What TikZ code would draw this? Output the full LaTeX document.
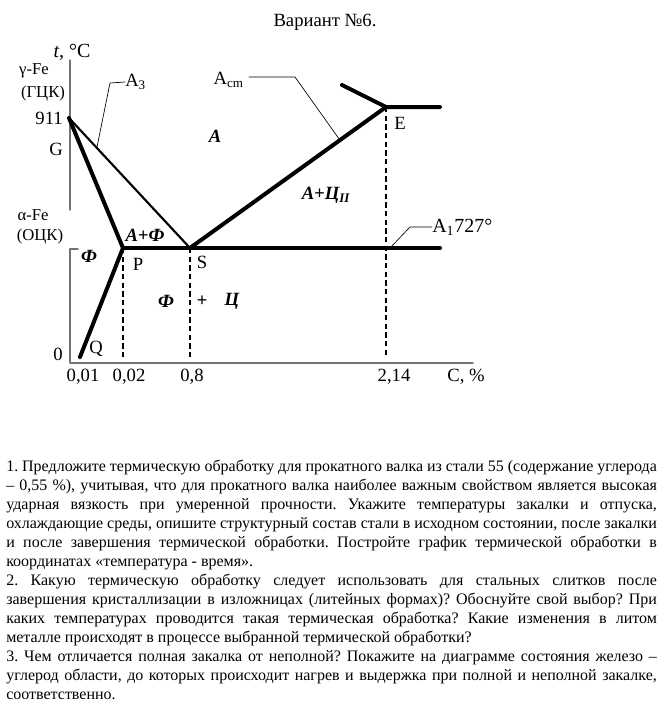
\documentclass[tikz,border=0pt]{standalone}
\usepackage{fontspec}
\setmainfont{Liberation Serif}
\usetikzlibrary{calc}
\frenchspacing
\newlength{\taskw}\setlength{\taskw}{488pt}
\newcommand{\tline}[1]{\makebox[\taskw][s]{#1}\\}
\begin{document}
\begin{tikzpicture}[x=.75pt, y=-.75pt, line join=round, line cap=round,
	lbl/.style={font=\fontsize{14}{16}\selectfont, inner sep=0pt},
	sml/.style={font=\fontsize{12.5}{14}\selectfont, inner sep=0pt},
	phs/.style={font=\fontsize{14}{16}\selectfont\bfseries\itshape, inner sep=0pt},
	axis/.style={draw=black!55, line width=1.1pt},
	curve/.style={line width=3pt},
	thincurve/.style={line width=1.6pt},
	leader/.style={line width=.5pt},
	drop/.style={line width=1.1pt, line cap=butt, dash pattern=on 4pt off 2.5pt}]
	\useasboundingbox (0,0) rectangle (661,717);
	\node (title) at (325,22) {\fontsize{14}{16}\selectfont Вариант №6.};
	% points of the diagram
	\coordinate (G) at (69,118);
	\coordinate (P) at (123,248);
	\coordinate (S) at (190,248);
	\coordinate (E) at (386,107);
	\coordinate (Q) at (80,357);
	\coordinate (PSK) at (440,248);
	\coordinate (ECF) at (440,107);
	\coordinate (BC) at (342,85);
	% axes
	\coordinate (O) at (70,363);
	\coordinate (Xend) at (473,363);
	\coordinate (Ytop) at (70,60);
	\coordinate (Ybrk) at (70,210);
	\coordinate (Ylow) at (70,249);
	\coordinate (Ytick) at (78,249);
	\draw[axis] (Ytop) -- (Ybrk);
	\draw[axis] (Ytick) -- (Ylow) -- (O) -- (Xend);
	% drop lines
	\draw[drop] (P) -- (P |- Q);
	\draw[drop] (S) -- (S |- Q);
	\draw[drop] (E) -- (E |- Q);
	% lines
	\draw[thincurve] (G) -- (S);
	\draw[curve] (Q) -- (P) -- (G);
	\draw[curve] (P) -- (PSK);
	\draw[curve] (S) -- (E) -- (ECF);
	\draw[curve] (BC) -- (E);
	% axis labels
	\node[lbl, font=\fontsize{15}{17}\selectfont] (tC) at (72,52) {\textit{t,} °C};
	\node[sml] (gFe) at (34,71) {γ-Fe};
	\node[sml] (gcc) at (43,93) {(ГЦК)};
	\node[lbl, anchor=east] (t911) at (63,118) {911};
	\node[lbl, anchor=east] (Glbl) at (63,149) {G};
	\node[sml] (aFe) at (33,215) {α-Fe};
	\node[sml] (bcc) at (40,236) {(ОЦК)};
	\node[lbl] (t0) at (58,354) {0};
	\node[lbl] (c001) at (83,377) {0,01};
	\node[lbl] (c002) at (129,377) {0,02};
	\node[lbl] (c08) at (192,377) {0,8};
	\node[lbl] (c214) at (394,377) {2,14};
	\node[lbl] (cpct) at (466,377) {C, \%};
	% point labels
	\node[lbl] (Plbl) at (138,264) {P};
	\node[lbl] (Slbl) at (202,262) {S};
	\node[lbl] (Elbl) at (400,123) {E};
	\node[lbl] (Qlbl) at (96,349) {Q};
	% phase fields
	\node[phs] (aus) at (215,136) {А};
	\node[phs] (ausce) at (326,195) {А+Ц\textsubscript{II}};
	\node[phs] (ausfe) at (145,235) {А+Ф};
	\node[phs] (fer) at (89,256) {Ф};
	\node[phs] (perf) at (166,301) {Ф};
	\node[phs] (perp) at (202,301) {+};
	\node[phs] (perc) at (232,301) {Ц};
	% critical lines
	\node[lbl, anchor=west] (A3) at (125,82) {A\textsubscript{3}};
	\coordinate (A3k) at (110,83);
	\draw[leader] (A3.west) -- (A3k) -- ($(G)!.23!(S)$);
	\node[lbl, anchor=east] (Acm) at (244,80) {A\textsubscript{cm}};
	\coordinate (Acms) at (249,77);
	\coordinate (Acmk) at (295,77);
	\draw[leader] (Acms) -- (Acmk) -- ($(S)!.765!(E)$);
	\node[lbl, anchor=west, font=\fontsize{15}{17}\selectfont] (A1) at (432,227) {A\textsubscript{1}727°};
	\coordinate (A1k) at (410,227);
	\draw[leader] (A1.west) -- (A1k) -- (391,247);
	% task
	\node[anchor=north west, inner sep=0pt, align=left, font=\fontsize{12}{14.25}\selectfont] (task) at (6,460) {%
		\tline{1. Предложите термическую обработку для прокатного валка из стали 55 (содержание углерода}
		\tline{– 0,55 \%), учитывая, что для прокатного валка наиболее важным свойством является высокая}
		\tline{ударная вязкость при умеренной прочности. Укажите температуры закалки и отпуска,}
		\tline{охлаждающие среды, опишите структурный состав стали в исходном состоянии, после закалки}
		\tline{и после завершения термической обработки. Постройте график термической обработки в}
		координатах «температура - время».\\
		\tline{2. Какую термическую обработку следует использовать для стальных слитков после}
		\tline{завершения кристаллизации в изложницах (литейных формах)? Обоснуйте свой выбор? При}
		\tline{каких температурах проводится такая термическая обработка? Какие изменения в литом}
		металле происходят в процессе выбранной термической обработки?\\
		\tline{3. Чем отличается полная закалка от неполной? Покажите на диаграмме состояния железо –}
		\tline{углерод области, до которых происходит нагрев и выдержка при полной и неполной закалке,}
		соответственно.};
\end{tikzpicture}
\end{document}
